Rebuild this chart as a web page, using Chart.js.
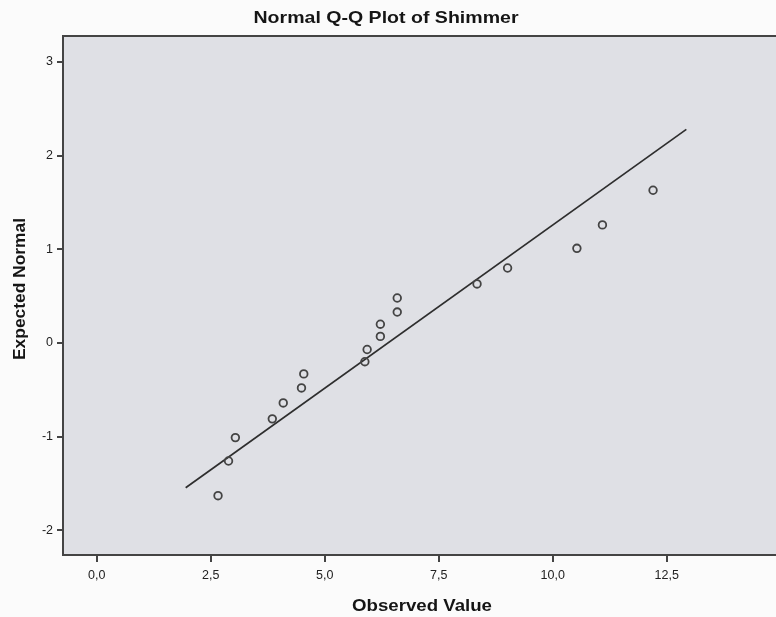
<!DOCTYPE html>
<html>
<head>
<meta charset="utf-8">
<script src="https://cdn.jsdelivr.net/npm/chart.js@4.4.1/dist/chart.umd.min.js"></script>
<style>
  html, body { margin: 0; padding: 0; background: #fbfbfb; overflow: hidden; }
  #wrap { width: 800px; height: 617px; }
</style>
</head>
<body>
<div id="wrap"><canvas id="qq"></canvas></div>
<script>
const observed = [2.66, 2.89, 3.04, 3.85, 4.09, 4.49, 4.54, 5.88, 5.93, 6.22, 6.22, 6.59, 6.59, 8.34, 9.01, 10.53, 11.09, 12.2];
const expected = [-1.63, -1.26, -1.01, -0.81, -0.64, -0.48, -0.33, -0.20, -0.07, 0.07, 0.20, 0.33, 0.48, 0.63, 0.80, 1.01, 1.26, 1.63];

// reference line end points
const lineX = [1.95, 12.93];
const lineY = [-1.545, 2.28];

const xTicks = [0, 2.5, 5, 7.5, 10, 12.5];
const xTickLabels = ['0,0', '2,5', '5,0', '7,5', '10,0', '12,5'];
const yTicks = [-2, -1, 0, 1, 2, 3];
const yTickLabels = ['-2', '-1', '0', '1', '2', '3'];

const chartTitle = 'Normal Q-Q Plot of Shimmer';
const xTitle = 'Observed Value';
const yTitle = 'Expected Normal';

const points = observed.map((v, i) => ({ x: v, y: expected[i] }));
const linePts = lineX.map((v, i) => ({ x: v, y: lineY[i] }));

const FONT = '"Liberation Sans", Arial, sans-serif';

// the scanned SPSS text is a bit wide, so stretch it to the measured width
function wideText(ctx, text, size, cx, cy, width, rot) {
    ctx.save();
    ctx.font = 'bold ' + size + 'px ' + FONT;
    const k = width / ctx.measureText(text).width;
    ctx.translate(cx, cy);
    if (rot) ctx.rotate(rot);
    ctx.scale(k, 1);
    ctx.fillText(text, 0, 0);
    ctx.restore();
}

// grey plot panel with frame + titles placed like the SPSS output
const panel = {
    id: 'panel',
    beforeDraw(chart) {
        const { ctx, chartArea: a } = chart;
        ctx.save();
        ctx.fillStyle = '#dfe0e5';
        ctx.fillRect(a.left, a.top, a.right - a.left + 10, a.bottom - a.top);
        ctx.strokeStyle = '#444';
        ctx.lineWidth = 2;
        ctx.beginPath();
        ctx.moveTo(a.right + 10, a.top);
        ctx.lineTo(a.left, a.top);
        ctx.lineTo(a.left, a.bottom);
        ctx.lineTo(a.right + 10, a.bottom);
        ctx.stroke();
        ctx.restore();
    },
    afterDraw(chart) {
        const { ctx } = chart;
        ctx.save();
        ctx.fillStyle = '#151515';
        ctx.textAlign = 'center';
        ctx.textBaseline = 'middle';
        wideText(ctx, chartTitle, 17, 386, 18, 265);
        wideText(ctx, xTitle, 17, 422, 606, 140);
        wideText(ctx, yTitle, 16.5, 20, 289, 142, -Math.PI / 2);
        ctx.restore();
    }
};

new Chart(document.getElementById('qq'), {
    type: 'scatter',
    data: {
        datasets: [
            {
                label: 'Observed',
                data: points,
                pointStyle: 'circle',
                pointRadius: 3.8,
                pointHoverRadius: 3.8,
                borderColor: '#444',
                backgroundColor: 'rgba(0,0,0,0)',
                pointBorderWidth: 1.8
            },
            {
                label: 'Line',
                type: 'line',
                data: linePts,
                borderColor: '#2e2e2e',
                borderWidth: 1.7,
                pointRadius: 0,
                fill: false
            }
        ]
    },
    options: {
        responsive: true,
        maintainAspectRatio: false,
        animation: false,
        layout: { padding: { top: 36, right: 0, left: 0, bottom: 0 } },
        plugins: {
            legend: { display: false },
            tooltip: { enabled: false },
            title: { display: false }
        },
        scales: {
            x: {
                type: 'linear',
                min: -0.74,
                max: 15.3,
                afterFit: s => { s.height = 62; },
                afterBuildTicks: s => { s.ticks = xTicks.map(v => ({ value: v })); },
                border: { display: false },
                grid: { drawOnChartArea: false, drawTicks: true, tickLength: 7, color: '#444', lineWidth: 2 },
                ticks: {
                    padding: 6,
                    color: '#222',
                    font: { family: FONT, size: 12.5 },
                    callback: (v) => xTickLabels[xTicks.indexOf(v)]
                }
            },
            y: {
                type: 'linear',
                min: -2.263,
                max: 3.276,
                afterFit: s => { s.width = 63; },
                afterBuildTicks: s => { s.ticks = yTicks.map(v => ({ value: v })); },
                border: { display: false },
                grid: { drawOnChartArea: false, drawTicks: true, tickLength: 6, color: '#444', lineWidth: 2 },
                ticks: {
                    padding: 4,
                    color: '#222',
                    font: { family: FONT, size: 12.5 },
                    callback: (v) => yTickLabels[yTicks.indexOf(v)]
                }
            }
        }
    },
    plugins: [panel]
});
</script>
</body>
</html>
